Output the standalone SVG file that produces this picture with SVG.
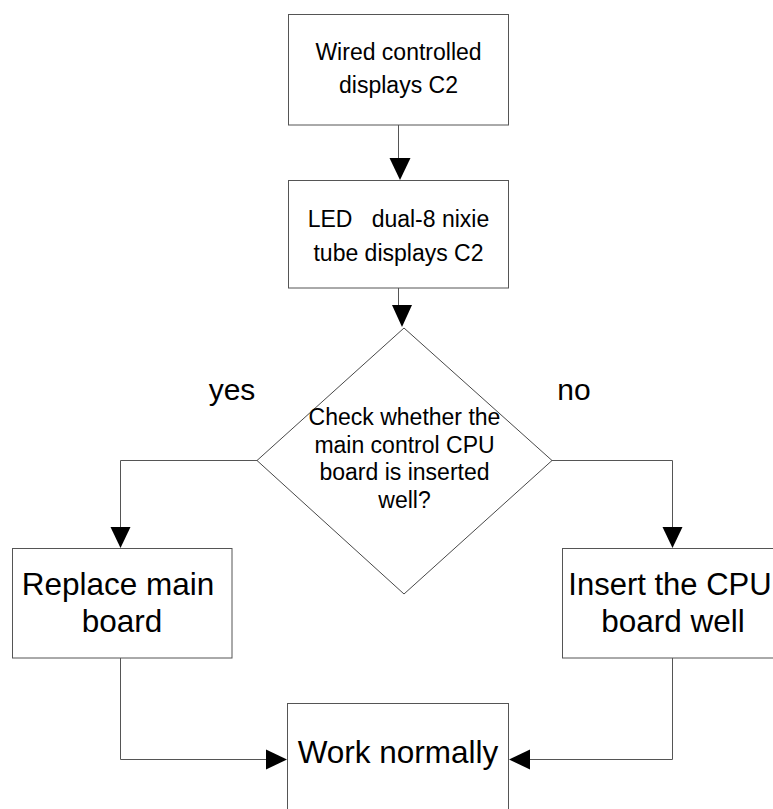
<svg xmlns="http://www.w3.org/2000/svg" width="773" height="809" viewBox="0 0 773 809">
<style>
.box{fill:#fff;stroke:#555;stroke-width:1}
.dia{fill:#fff;stroke:#333;stroke-width:0.9}
.con{fill:none;stroke:#555;stroke-width:1}
.ah{fill:#000;stroke:none}
.t{font-family:"Liberation Sans",Arial,sans-serif;fill:#000;text-anchor:middle}
.s{font-size:23px}
.b{font-size:31.5px}
</style>
<rect width="773" height="809" fill="#fff"/>
<g id="connectors">
<path class="con" d="M398.5 125 V160"/>
<polygon class="ah" points="389.5,158 410.5,158 400,180"/>
<path class="con" d="M398.5 288 V307"/>
<polygon class="ah" points="392,305 412,305 402,327"/>
<path class="con" d="M257 460.5 H120.5 V530"/>
<polygon class="ah" points="110.5,527 130.5,527 120.5,548"/>
<path class="con" d="M552 460.5 H672.5 V530"/>
<polygon class="ah" points="662.5,527 682.5,527 672.5,548"/>
<path class="con" d="M120.5 658 V759.5 H268"/>
<polygon class="ah" points="266,749.5 266,769.5 287,759.5"/>
<path class="con" d="M672.5 658 V759.5 H528"/>
<polygon class="ah" points="530,749.5 530,769.5 509,759.5"/>
</g>
<g id="n1">
<rect class="box" x="288.5" y="14.5" width="220" height="110.5"/>
<text class="t s" x="398.5" y="60">Wired controlled</text>
<text class="t s" x="398.5" y="93">displays C2</text>
</g>
<g id="n2">
<rect class="box" x="288.5" y="180.5" width="220" height="107.5"/>
<text class="t s" x="398.5" y="227" xml:space="preserve">LED   dual-8 nixie</text>
<text class="t s" x="398.5" y="261">tube displays C2</text>
</g>
<g id="n3">
<polygon class="dia" points="404,328 552,460.5 404,594 257,460.5"/>
<text class="t s" x="404.5" y="425">Check whether the</text>
<text class="t s" x="404.5" y="452.5">main control CPU</text>
<text class="t s" x="404.5" y="480">board is inserted</text>
<text class="t s" x="404.5" y="507.5">well?</text>
</g>
<g id="n4">
<rect class="box" x="12.5" y="548.5" width="219.5" height="109.5"/>
<text class="t b" x="118" y="595">Replace main</text>
<text class="t b" x="122" y="632">board</text>
</g>
<g id="n5">
<rect class="box" x="562.5" y="548.5" width="221" height="109.5"/>
<text class="t" style="font-size:31px" x="670" y="595">Insert the CPU</text>
<text class="t b" x="673" y="632">board well</text>
</g>
<g id="n6">
<rect class="box" x="287.5" y="703.5" width="221" height="112"/>
<text class="t b" x="398" y="763">Work normally</text>
</g>
<g id="labels">
<text class="t" style="font-size:30px" x="232" y="400">yes</text>
<text class="t" style="font-size:30px" x="574" y="400">no</text>
</g>
</svg>
